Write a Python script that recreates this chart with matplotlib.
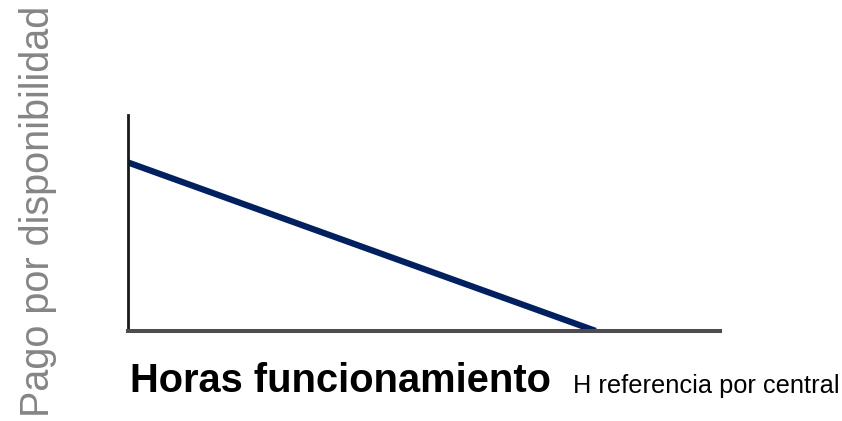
import matplotlib
matplotlib.use('Agg')
import matplotlib.pyplot as plt

# data (axes fraction units)
hours = [0.0, 0.79]
payment = [0.78, 0.0]

plt.rcParams['font.family'] = ['Liberation Sans', 'DejaVu Sans']

fig = plt.figure(figsize=(8.42, 4.21), dpi=100)
ax = fig.add_axes([0.152, 0.214, 0.703, 0.513])

ax.plot(hours, payment, color='#002060', lw=4.5, solid_capstyle='butt')
ax.set_xlim(0, 1)
ax.set_ylim(0, 1)
ax.set_xticks([])
ax.set_yticks([])

ax.spines['top'].set_visible(False)
ax.spines['right'].set_visible(False)
ax.spines['left'].set_color('#1a1a1a')
ax.spines['left'].set_linewidth(2)
ax.spines['bottom'].set_color('#4d4d4d')
ax.spines['bottom'].set_linewidth(2.9)

fig.text(0.045, 0.497, 'Pago por disponibilidad', rotation=90, ha='center', va='center',
         fontsize=28.5, color='#858585')
fig.text(0.154, 0.069, 'Horas funcionamiento', ha='left', va='baseline',
         fontsize=28.7, fontweight='bold', color='black')
fig.text(0.681, 0.067, 'H referencia por central', ha='left', va='baseline',
         fontsize=18.3, color='black')

fig.savefig('out.png', dpi=100)
